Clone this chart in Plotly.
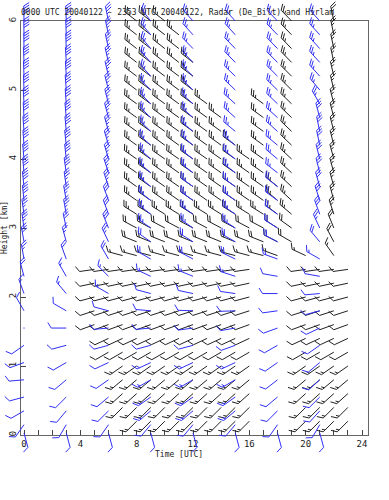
import math
import plotly.graph_objects as go

# ---------------- data ----------------
# Hirlam model profiles (blue): times [UTC h], heights [km]
hirlam_times = [0, 3, 6, 9, 12, 15, 18, 21]
hirlam_heights = [0.03, 0.15, 0.35, 0.55, 0.8, 1.05, 1.3, 1.55, 1.8, 2.05, 2.3, 2.55, 2.8,
                  3.0, 3.2, 3.4, 3.6, 3.8, 4.0, 4.2, 4.4, 4.6, 4.8, 5.0, 5.2, 5.4, 5.6, 5.8, 6.0]
# wind direction (deg, from) per time, per height
hirlam_dir = [
    [165, 215, 240, 255, 265, 250, 235, 0, 330, 340, 345, 350, 350, 352, 352, 354, 354, 355, 355, 356, 356, 357, 357, 358, 358, 358, 359, 359, 359],
    [165, 210, 220, 225, 230, 240, 255, 270, 300, 320, 330, 340, 345, 348, 350, 350, 352, 352, 354, 354, 355, 355, 356, 356, 357, 357, 358, 358, 358],
    [165, 215, 225, 230, 235, 245, 255, 265, 285, 300, 315, 330, 335, 338, 340, 340, 342, 342, 344, 344, 345, 345, 346, 346, 347, 347, 348, 348, 348],
    [165, 220, 230, 235, 240, 245, 255, 265, 275, 285, 295, 300, 305, 305, 308, 308, 310, 310, 312, 312, 314, 314, 315, 315, 318, 318, 320, 320, 322],
    [165, 220, 230, 235, 240, 245, 255, 262, 272, 282, 292, 298, 302, 305, 305, 306, 306, 308, 308, 310, 310, 312, 312, 314, 314, 316, 316, 318, 318],
    [165, 220, 230, 235, 240, 245, 250, 260, 268, 278, 288, 296, 300, 303, 305, 306, 306, 308, 308, 310, 310, 312, 312, 314, 314, 316, 316, 318, 318],
    [165, 215, 225, 230, 232, 235, 240, 250, 262, 270, 280, 290, 298, 302, 305, 306, 308, 308, 310, 310, 312, 312, 314, 314, 315, 315, 316, 316, 316],
    [165, 210, 222, 225, 228, 230, 235, 245, 255, 265, 280, 300, 320, 335, 340, 342, 344, 346, 346, 348, 348, 345, 330, 320, 318, 318, 318, 318, 318],
]
# wind speed (kt) per time, per height
hirlam_spd = [
    [8, 10, 10, 10, 10, 10, 8, 1, 10, 15, 20, 25, 30, 35, 35, 40, 40, 40, 40, 40, 40, 40, 40, 40, 40, 40, 40, 40, 40],
    [8, 10, 10, 10, 10, 10, 10, 10, 12, 15, 15, 20, 25, 30, 35, 35, 35, 40, 40, 40, 40, 40, 40, 40, 40, 40, 40, 40, 40],
    [8, 10, 10, 10, 10, 10, 10, 10, 10, 15, 15, 20, 25, 30, 30, 30, 35, 35, 35, 35, 35, 35, 35, 35, 35, 35, 35, 35, 35],
    [8, 10, 15, 15, 15, 15, 12, 10, 10, 12, 15, 20, 20, 25, 25, 25, 25, 25, 25, 25, 25, 25, 25, 25, 25, 25, 25, 25, 25],
    [8, 10, 15, 15, 15, 15, 12, 10, 10, 12, 15, 20, 20, 25, 25, 25, 25, 25, 25, 25, 25, 25, 25, 25, 25, 25, 25, 25, 25],
    [8, 10, 15, 15, 15, 15, 12, 10, 10, 12, 15, 20, 20, 25, 25, 25, 25, 25, 25, 25, 25, 25, 25, 25, 25, 25, 25, 25, 25],
    [8, 10, 10, 10, 10, 10, 10, 10, 10, 10, 12, 15, 20, 20, 20, 20, 20, 25, 25, 25, 25, 25, 25, 25, 25, 25, 25, 25, 25],
    [8, 10, 10, 10, 10, 10, 10, 10, 10, 10, 12, 15, 20, 25, 30, 30, 30, 30, 30, 30, 30, 30, 25, 25, 25, 25, 25, 25, 25],
]

# Radar VAD profiles (black): hourly, heights every 0.2 km
radar_times = [5, 6, 7, 8, 9, 10, 11, 12, 13, 14, 15, 16, 17, 18, 19, 20, 21, 22, 23]
radar_levels = [0.2, 0.4, 0.6, 0.8, 1.0, 1.2, 1.4, 1.6, 1.8, 2.0, 2.2, 2.4, 2.6, 2.8, 3.0,
                3.2, 3.4, 3.6, 3.8, 4.0, 4.2, 4.4, 4.6, 4.8, 5.0, 5.2, 5.4, 5.6, 5.8, 6.0]
radar_dir_profile = [225, 225, 228, 230, 235, 240, 245, 250, 252, 255, 258, 262, 285, 292, 298,
                     302, 305, 305, 305, 305, 306, 306, 306, 306, 307, 307, 308, 308, 308, 308]
radar_spd_profile = [15, 15, 15, 15, 15, 12, 12, 10, 10, 10, 10, 10, 15, 20, 20,
                     25, 25, 25, 25, 25, 25, 25, 25, 25, 25, 25, 25, 25, 25, 25]
# per-hour veer of the upper (>2.4 km) winds
radar_upper_veer = [0, 0, 0, 0, 0, 0, 0, 0, 0, 0, 0, 0, 0, 5, 8, 10, 20, 40, 40]
# per-hour data coverage: two height segments (low, high), None = no data
radar_seg1 = [(1.6, 2.4), (1.2, 2.4), (0.4, 2.6), (0.2, 6.0), (0.2, 6.0), (0.2, 6.0), (0.2, 5.8),
              (0.2, 5.4), (0.2, 4.8), (0.2, 4.6), (0.2, 4.2), (0.2, 4.0), (2.6, 4.8), (2.6, 3.6),
              (2.8, 6.0), (0.2, 2.6), (0.2, 2.4), (0.2, 2.4), (0.2, 2.4)]
radar_seg2 = [None, None, None, None, None, None, None, None, None, None, None, None, None, None,
              None, None, None, (2.6, 6.0), None]

title_text = "0000 UTC 20040122 - 2353 UTC 20040122, Radar (De_Bilt) and Hirlam"
x_tick_vals = [0, 4, 8, 12, 16, 20, 24]
y_tick_vals = [0, 1, 2, 3, 4, 5, 6]

# ---------------- geometry ----------------
W, H = 389, 500
PL, PR, PT, PB = 21, 368, 21, 435          # frame in pixels
X0, X1 = -0.213, 24.426
Y0, Y1 = 0.0, 6.0
hpp = (X1 - X0) / (PR - PL)                # hours per pixel
kpp = (Y1 - Y0) / (PB - PT)                # km per pixel

STAFF, FEATH, SPACE, FANG = 15.0, 6.5, 2.6, 58


def barb(xs, ys, x, y, d, s):
    if s < 2.5:
        xs += [x - 0.6 * hpp, x + 0.6 * hpp, None]
        ys += [y, y, None]
        return
    th = math.radians(d)
    ux, uy = math.sin(th), math.cos(th)
    a = math.radians(FANG)
    fx, fy = ux * math.cos(a) + uy * math.sin(a), -ux * math.sin(a) + uy * math.cos(a)

    def P(px, py):
        return x + px * hpp, y + py * kpp

    tx, ty = STAFF * ux, STAFF * uy
    p0, p1 = P(0, 0), P(tx, ty)
    xs += [p0[0], p1[0], None]
    ys += [p0[1], p1[1], None]
    r = int(round(s / 5.0)) * 5
    n50, r = divmod(r, 50)
    n10, r = divmod(r, 10)
    n5 = r // 5
    k = 0
    for _ in range(n50):
        b = (tx - k * SPACE * ux, ty - k * SPACE * uy)
        c = (b[0] - 2 * SPACE * ux, b[1] - 2 * SPACE * uy)
        pts = [P(*b), P(b[0] + FEATH * fx, b[1] + FEATH * fy), P(*c), P(*b)]
        xs += [p[0] for p in pts] + [None]
        ys += [p[1] for p in pts] + [None]
        k += 2.5
    for _ in range(n10):
        b = (tx - k * SPACE * ux, ty - k * SPACE * uy)
        q = P(b[0] + FEATH * fx, b[1] + FEATH * fy)
        b = P(*b)
        xs += [b[0], q[0], None]
        ys += [b[1], q[1], None]
        k += 1
    if n5:
        if k == 0:
            k = 1
        b = (tx - k * SPACE * ux, ty - k * SPACE * uy)
        q = P(b[0] + 0.5 * FEATH * fx, b[1] + 0.5 * FEATH * fy)
        b = P(*b)
        xs += [b[0], q[0], None]
        ys += [b[1], q[1], None]


rx, ry = [], []
for i, t in enumerate(radar_times):
    for seg in (radar_seg1[i], radar_seg2[i]):
        if seg is None:
            continue
        for j, lev in enumerate(radar_levels):
            if seg[0] - 1e-6 <= lev <= seg[1] + 1e-6:
                d = radar_dir_profile[j] + (radar_upper_veer[i] if lev > 2.45 else 0)
                barb(rx, ry, t, lev, d, radar_spd_profile[j])

bx, by = [], []
for i, t in enumerate(hirlam_times):
    for j, lev in enumerate(hirlam_heights):
        barb(bx, by, t, lev, hirlam_dir[i][j], hirlam_spd[i][j])

# overlay axes spanning the whole page with identical scale (barbs are not clipped at frame)
x2r = [X0 - PL * hpp, X1 + (W - PR) * hpp]
y2r = [Y0 - (H - PB) * kpp, Y1 + PT * kpp]

fig = go.Figure()
fig.add_trace(go.Scatter(x=rx, y=ry, mode="lines", line=dict(color="#222222", width=1),
                         xaxis="x2", yaxis="y2", hoverinfo="skip", showlegend=False))
fig.add_trace(go.Scatter(x=bx, y=by, mode="lines", line=dict(color="#3030f5", width=1),
                         xaxis="x2", yaxis="y2", hoverinfo="skip", showlegend=False))
fig.add_trace(go.Scatter(x=[None], y=[None], showlegend=False))

FONT = "DejaVu Sans Mono"
fig.update_layout(
    width=W, height=H, margin=dict(l=0, r=0, t=0, b=0),
    paper_bgcolor="white", plot_bgcolor="rgba(0,0,0,0)",
    font=dict(family=FONT, size=8, color="#222"),
    xaxis=dict(domain=[PL / W, PR / W], range=[X0, X1], showgrid=False, zeroline=False,
               showline=True, linecolor="#666", linewidth=1, mirror=True,
               tickvals=x_tick_vals, ticks="inside", ticklen=5, tickcolor="#444",
               minor=dict(dtick=1, tick0=0, ticks="inside", ticklen=5, tickcolor="#444"),
               tickfont=dict(family=FONT, size=9, color="#222"), automargin=False),
    yaxis=dict(domain=[1 - PB / H, 1 - PT / H], range=[Y0, Y1], showgrid=False, zeroline=False,
               showline=True, linecolor="#666", linewidth=1, mirror=True,
               tickvals=y_tick_vals, ticks="inside", ticklen=5, tickcolor="#444", tickangle=-90,
               tickfont=dict(family=FONT, size=9, color="#222"), automargin=False),
    xaxis2=dict(domain=[0, 1], range=x2r, visible=False, anchor="y2"),
    yaxis2=dict(domain=[0, 1], range=y2r, visible=False, anchor="x2"),
    annotations=[
        dict(text=title_text, x=19 / W, y=1 - 12 / H, xref="paper", yref="paper",
             xanchor="left", yanchor="middle", showarrow=False,
             font=dict(family=FONT, size=8, color="#222")),
        dict(text="Time [UTC]", x=179 / W, y=1 - 454 / H, xref="paper", yref="paper",
             xanchor="center", yanchor="middle", showarrow=False,
             font=dict(family=FONT, size=8, color="#222")),
        dict(text="Height [km]", x=5 / W, y=1 - 228 / H, xref="paper", yref="paper",
             xanchor="center", yanchor="middle", showarrow=False, textangle=-90,
             font=dict(family=FONT, size=8, color="#222")),
    ],
)
fig.write_html("out.html", config={"displayModeBar": False},
               post_script="document.body.style.margin='0';document.body.style.overflow='hidden';")
